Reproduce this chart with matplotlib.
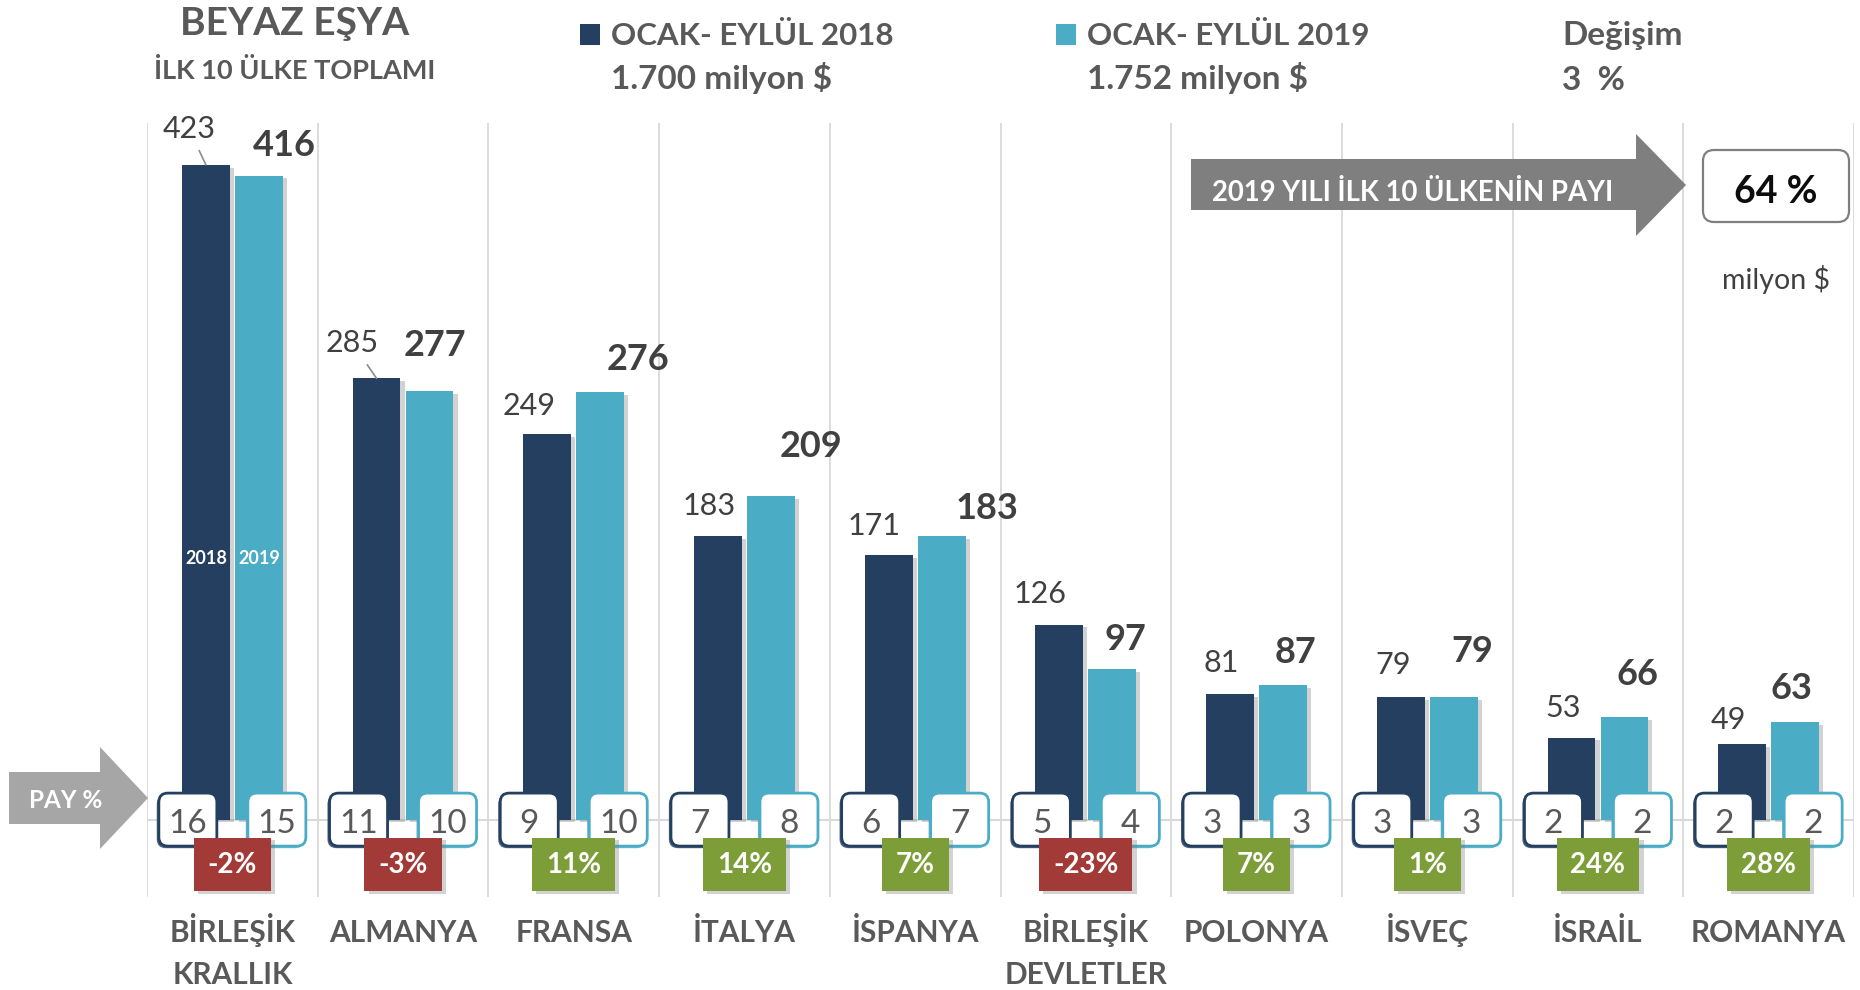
import matplotlib
matplotlib.use("Agg")
import matplotlib.pyplot as plt
import matplotlib.patches as mpatches
import matplotlib.transforms as mtransforms
import matplotlib.patheffects as pe

plt.rcParams['font.family'] = ['Lato', 'DejaVu Sans']

# data (milyon $)
countries = ['BİRLEŞİK\nKRALLIK', 'ALMANYA', 'FRANSA', 'İTALYA', 'İSPANYA',
             'BİRLEŞİK\nDEVLETLER', 'POLONYA', 'İSVEÇ', 'İSRAİL', 'ROMANYA']
years = ['2018', '2019']
val_2018 = [423, 285, 249, 183, 171, 126, 81, 79, 53, 49]
val_2019 = [416, 277, 276, 209, 183, 97, 87, 79, 66, 63]
share_2018 = [16, 11, 9, 7, 6, 5, 3, 3, 2, 2]
share_2019 = [15, 10, 10, 8, 7, 4, 3, 3, 2, 2]
change = [-2, -3, 11, 14, 7, -23, 7, 1, 24, 28]
total_2018 = '1.700'
total_2019 = '1.752'
total_change = 3
top10_share = 64

# hand placed value labels (pixels: dx from bar centre, baseline above bar top)
lab18_dx = [-17, -24, -18, -9, -15, -19, -9, -8, -8, -14]
lab18_dy = [27, 26, 19, 21, 20, 22, 22, 23, 21, 15]
lab19_dx = [26, 5, 38, 40, 45, 13, 12, 19, 13, -4]
lab19_dy = [20, 35, 22, 39, 17, 19, 22, 35, 32, 23]

C18 = '#243F60'
C19 = '#4BACC6'
GRAY = '#595959'
DARK = '#404040'
RED = '#A23A38'
GREEN = '#7D9D38'
GRID = '#D9D9D9'

W, H = 1860, 990
fig = plt.figure(figsize=(W / 100, H / 100), dpi=100)
ax = fig.add_axes([147 / W, 93 / H, 1707 / W, 774 / H])

n = len(countries)
x = list(range(n))
off = 0.155
bw = 0.28

ax.set_xlim(-0.5, n - 0.5)
ax.set_ylim(-50, 450)
ax.axis('off')

for b in range(n + 1):
    ax.axvline(b - 0.5, color=GRID, lw=1.3, zorder=0)
ax.axhline(0, color=GRID, lw=1.5, zorder=1)

shadow = [pe.SimplePatchShadow(offset=(3, -2), shadow_rgbFace='#7F7F7F', alpha=0.35), pe.Normal()]

b18 = ax.bar([i - off for i in x], val_2018, bw, color=C18, zorder=2)
b19 = ax.bar([i + off for i in x], val_2019, bw, color=C19, zorder=2)
for p in list(b18) + list(b19):
    p.set_path_effects(shadow)

# value labels
for i in x:
    arrow = None
    if lab18_dy[i] >= 25:
        arrow = dict(arrowstyle='-', color='#8C8C8C', lw=1.2, shrinkA=4, shrinkB=0)
    ax.annotate(str(val_2018[i]), xy=(i - off, val_2018[i]), xytext=(lab18_dx[i], lab18_dy[i]),
                textcoords='offset pixels', ha='center', va='baseline', fontsize=22,
                color=DARK, zorder=5, arrowprops=arrow)
    ax.annotate(str(val_2019[i]), xy=(i + off, val_2019[i]), xytext=(lab19_dx[i], lab19_dy[i]),
                textcoords='offset pixels', ha='center', va='baseline', fontsize=26,
                fontweight='bold', color=DARK, zorder=5)

# year names inside the first pair of bars
for k, xc in enumerate([0 - off, 0 + off]):
    ax.annotate(years[k], xy=(xc, 0), xytext=(0, 256), textcoords='offset pixels',
                ha='center', va='baseline', fontsize=13, fontweight='bold', color='white', zorder=5)


def pay_box(xc, dx, txt, ec):
    tr = mtransforms.IdentityTransform() + mtransforms.ScaledTranslation(xc, 0, ax.transData)
    box = mpatches.FancyBboxPatch((dx - 29, -26.5), 58, 53,
                                  boxstyle='round,pad=0,rounding_size=9', transform=tr,
                                  fc='white', ec=ec, lw=2, zorder=4)
    box.set_path_effects([pe.SimplePatchShadow(offset=(-1.5, -1.5), shadow_rgbFace=ec, alpha=0.8),
                          pe.Normal()])
    ax.add_artist(box)
    ax.annotate(txt, xy=(xc, 0), xytext=(dx, -13), textcoords='offset pixels',
                ha='center', va='baseline', fontsize=24, color=GRAY, zorder=5)


for i in x:
    pay_box(i, -44.5, str(share_2018[i]), C18)
    pay_box(i, 44.5, str(share_2019[i]), C19)

# change boxes
for i in x:
    c = change[i]
    t = ax.annotate(f'{c}%', xy=(i, 0), xytext=(0, -53), textcoords='offset pixels',
                    ha='center', va='baseline', fontsize=20, fontweight='bold', color='white',
                    zorder=6, bbox=dict(boxstyle='square,pad=0.5', fc=GREEN if c >= 0 else RED, ec='none'))
    t.get_bbox_patch().set_path_effects(shadow)

# country names
for i, name in enumerate(countries):
    for k, line in enumerate(name.split('\n')):
        ax.annotate(line, xy=(i, 0), xytext=(0, -122 - 42 * k), textcoords='offset pixels',
                    ha='center', va='baseline', fontsize=21.5, fontweight='bold', color=GRAY)


# ---- header and decorations, in pixel positions (top-left origin)
def fxy(px, py):
    return px / W, 1 - py / H


def pix(px, py):
    return px, H - py


ident = mtransforms.IdentityTransform()

fig.text(*fxy(295, 35), 'BEYAZ EŞYA', ha='center', va='baseline', fontsize=28,
         fontweight='bold', color=GRAY)
fig.text(*fxy(295, 79), 'İLK 10 ÜLKE TOPLAMI', ha='center', va='baseline', fontsize=19.5,
         fontweight='bold', color=GRAY)

for sq_x, col, yr, tot in [(580, C18, years[0], total_2018), (1056, C19, years[1], total_2019)]:
    fig.add_artist(mpatches.Rectangle(pix(sq_x, 45), 20, 21, transform=ident, fc=col, ec='none'))
    fig.text(*fxy(sq_x + 31, 45), f'OCAK- EYLÜL {yr}', ha='left', va='baseline', fontsize=22.5,
             fontweight='bold', color=GRAY)
    fig.text(*fxy(sq_x + 31, 89), f'{tot} milyon $', ha='left', va='baseline', fontsize=24,
             fontweight='bold', color=GRAY)

fig.text(*fxy(1562, 45), 'Değişim', ha='left', va='baseline', fontsize=24,
         fontweight='bold', color=GRAY)
fig.text(*fxy(1562, 90), f'{total_change}  %', ha='left', va='baseline', fontsize=24,
         fontweight='bold', color=GRAY)

# big grey arrow
big = [(1191, 159), (1636, 159), (1636, 134), (1686, 185), (1636, 236), (1636, 210), (1191, 210)]
fig.add_artist(mpatches.Polygon([pix(a, b) for a, b in big], closed=True, transform=ident,
                                fc='#7F7F7F', ec='none'))
fig.text(*fxy(1212, 201), '2019 YILI İLK 10 ÜLKENİN PAYI', ha='left', va='baseline',
         fontsize=19.8, fontweight='bold', color='white')

fig.add_artist(mpatches.FancyBboxPatch(pix(1703, 222), 146, 72,
                                       boxstyle='round,pad=0,rounding_size=11', transform=ident,
                                       fc='white', ec='#7F7F7F', lw=1.6))
fig.text(*fxy(1776, 203), f'{top10_share} %', ha='center', va='baseline', fontsize=27,
         fontweight='bold', color='#0D0D0D')
fig.text(*fxy(1776, 289), 'milyon $', ha='center', va='baseline', fontsize=20.5, color=DARK)

# PAY % arrow
pay = [(9, 772), (100, 772), (100, 747), (148, 798), (100, 849), (100, 824), (9, 824)]
fig.add_artist(mpatches.Polygon([pix(a, b) for a, b in pay], closed=True, transform=ident,
                                fc='#A6A6A6', ec='none'))
fig.text(*fxy(29, 808), 'PAY %', ha='left', va='baseline', fontsize=17.5,
         fontweight='bold', color='white')

fig.savefig('out.png', dpi=100)
